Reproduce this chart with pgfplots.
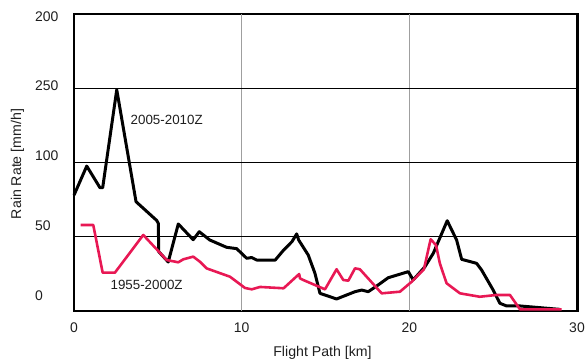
\documentclass[border=0pt]{standalone}
\usepackage{pgfplots}
\pgfplotsset{compat=1.18}
\usepackage{fontspec}
\setmainfont{Liberation Sans}
\definecolor{myred}{RGB}{232,24,84}
\definecolor{txt}{RGB}{30,30,30}
\begin{document}
\begin{tikzpicture}
\begin{axis}[
  at={(74bp,49bp)}, anchor=south west,
  scale only axis, width=503bp, height=297bp,
  xmin=0, xmax=30, ymin=0, ymax=200,
  axis line style={line width=3pt},
  xtick={0,10,20,30},
  ytick={10.1,57.2,104.4,151.5,198.5},
  yticklabels={0,50,100,250,200},
  major tick length=0pt,
  /pgf/number format/assume math mode=true,
  xticklabel style={font=\fontsize{14}{16}\selectfont, text=txt, inner sep=0pt, anchor=north, yshift=-12bp},
  yticklabel style={font=\fontsize{14}{16}\selectfont, text=txt, inner sep=0pt, anchor=west, xshift=-39bp},
  extra x ticks={10,20}, extra x tick labels={},
  extra x tick style={grid=major, major grid style={draw=gray!75, line width=1.3pt}},
  extra y ticks={50,100,150}, extra y tick labels={},
  extra y tick style={grid=major, major grid style={draw=black, line width=0.9pt}},
  xlabel={Flight Path [km]},
  ylabel={Rain Rate [mm/h]},
  xlabel style={font=\fontsize{14.2}{16}\selectfont, text=txt, at={(axis description cs:0.494,-0.1397)}, anchor=center},
  ylabel style={font=\fontsize{14.2}{16}\selectfont, text=txt, at={(axis description cs:-0.1123,0.495)}, anchor=center},
  clip=false,
]
\addplot[black, line width=3pt, line join=round] coordinates {
(0,78) (0.76,97.6) (1.55,83) (1.71,83) (2.55,149) (3.7,73.6) (4.93,61) (5.03,59)
(5.05,40) (5.62,33) (6.22,58.6) (7.11,48) (7.47,53.4) (8.1,47.8) (9.1,42.9) (9.7,42)
(10.3,35.5) (10.6,36) (10.9,34.3) (12.0,34.3) (12.5,41) (13.0,46.7) (13.28,51.9) (13.4,47.8)
(13.97,37.7) (14.37,25.4) (14.67,11.9) (15.27,9.6) (15.66,8.1) (16.76,13) (17.16,14.1)
(17.55,13) (18.05,16.8) (18.74,22.4) (19.94,26.5) (20.23,20.9) (20.93,29.8) (21.43,38.9)
(22.26,60.8) (22.82,47.8) (23.12,34.8) (24.01,32.1) (24.31,27.6) (25.0,14.1) (25.4,5.2)
(25.8,3.4) (26.6,3.4) (28.98,1.1)
};
\addplot[myred, line width=2.6pt, line join=round] coordinates {
(0.4,57.9) (1.15,57.9) (1.71,25.8) (2.44,25.8) (4.13,51.2) (5.53,34.3) (6.22,32.8)
(6.52,34.8) (7.11,36.6) (7.51,33.2) (7.91,28.7) (9.3,23.1) (10.2,15.5) (10.6,14.6)
(11.1,16.2) (12.5,15.3) (13.43,24.9) (13.48,22) (13.67,20.9) (14.97,14.6) (15.66,28.1)
(16.06,20.9) (16.36,20.4) (16.76,28.7) (17.05,28.1) (18.35,11.9) (19.44,13) (20.14,19.7)
(20.87,28.1) (21.27,48.3) (21.59,44.4) (21.82,32.1) (22.22,18.7) (23.02,11.9) (24.2,9.6)
(25.2,10.8) (26.0,10.8) (26.6,1.1) (29.08,1.1)
};
\node[text=txt, font=\fontsize{13.4}{15}\selectfont] at (axis cs:5.53,128.6) {2005-2010Z};
\node[text=txt, font=\fontsize{13.4}{15}\selectfont] at (axis cs:4.33,17.5) {1955-2000Z};
\end{axis}
\pgfresetboundingbox
\path (0,0) rectangle (586bp,360bp);
\end{tikzpicture}
\end{document}
